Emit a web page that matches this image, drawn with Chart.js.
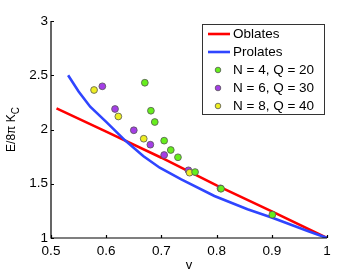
<!DOCTYPE html>
<html>
<head>
<meta charset="utf-8">
<script src="https://cdn.jsdelivr.net/npm/chart.js@4"></script>
<style>
    html, body { margin: 0; padding: 0; background: #fff; }
    #wrap { width: 362px; height: 273px; }
</style>
</head>
<body>
<div id="wrap"><canvas id="chart" width="362" height="273"></canvas></div>
<script>
/* ===== data ===== */
var xTicks = [0.5, 0.6, 0.7, 0.8, 0.9, 1];
var xTickLabels = ["0.5", "0.6", "0.7", "0.8", "0.9", "1"];
var yTicks = [1, 1.5, 2, 2.5, 3];
var yTickLabels = ["1", "1.5", "2", "2.5", "3"];

var oblatesX = [0.51, 0.6, 0.7, 0.8, 0.9, 1];
var oblatesY = [2.195, 1.98, 1.74, 1.485, 1.245, 1];

var prolatesX = [0.531, 0.55, 0.571, 0.6, 0.634, 0.667, 0.697, 0.736, 0.796, 0.856, 0.901, 0.965, 1];
var prolatesY = [2.5, 2.35, 2.21, 2.07, 1.9, 1.756, 1.648, 1.541, 1.387, 1.265, 1.187, 1.065, 1];

var n4X = [0.670, 0.681, 0.688, 0.705, 0.717, 0.730, 0.761, 0.808, 0.901];
var n4Y = [2.431, 2.173, 2.069, 1.897, 1.811, 1.744, 1.608, 1.454, 1.215];

var n6X = [0.593, 0.616, 0.650, 0.680, 0.705, 0.749, 0.807];
var n6Y = [2.398, 2.189, 1.993, 1.860, 1.765, 1.624, 1.458];

var n8X = [0.578, 0.622, 0.668, 0.751];
var n8Y = [2.364, 2.120, 1.915, 1.602];

var seriesNames = ["Oblates", "Prolates", "N = 4, Q = 20", "N = 6, Q = 30", "N = 8, Q = 40"];

/* ===== helpers ===== */
function toPoints(xs, ys) {
    var out = [];
    for (var i = 0; i < xs.length; i++) out.push({ x: xs[i], y: ys[i] });
    return out;
}

var RED = "#ff0000";
var BLUE = "#2f45ff";
var GREEN = "#66ee1c";
var PURPLE = "#a43ee6";
var YELLOW = "#eeee22";
var FONT = "'Liberation Sans', Arial, sans-serif";

function lineSet(label, xs, ys, color, order) {
    return {
        label: label,
        data: toPoints(xs, ys),
        showLine: true,
        borderColor: color,
        borderWidth: 2.6,
        pointRadius: 0,
        fill: false,
        tension: 0,
        order: order
    };
}

function dotSet(label, xs, ys, color, order) {
    return {
        label: label,
        data: toPoints(xs, ys),
        showLine: false,
        backgroundColor: color,
        borderColor: "#555555",
        borderWidth: 0.8,
        pointRadius: 3.4,
        order: order
    };
}

/* --- frame, inward ticks, y title and legend --- */
var decorPlugin = {
    id: "decor",
    afterDatasetsDraw: function (chart) {
        var ctx = chart.ctx;
        var area = chart.chartArea;
        var xs = chart.scales.x;
        var ys = chart.scales.y;
        var i;

        ctx.save();
        ctx.strokeStyle = "#000";
        ctx.lineWidth = 1.2;
        ctx.beginPath();
        ctx.moveTo(area.left, area.top);
        ctx.lineTo(area.left, area.bottom);
        ctx.lineTo(area.right, area.bottom);
        for (i = 0; i < xTicks.length; i++) {
            var px = Math.round(xs.getPixelForValue(xTicks[i])) + 0.5;
            ctx.moveTo(px, area.bottom);
            ctx.lineTo(px, area.bottom - 3);
        }
        for (i = 0; i < yTicks.length; i++) {
            var py = Math.round(ys.getPixelForValue(yTicks[i])) + 0.5;
            ctx.moveTo(area.left, py);
            ctx.lineTo(area.left + 3, py);
        }
        ctx.stroke();

        // y axis title with subscript
        ctx.fillStyle = "#000";
        ctx.translate(15, (area.top + area.bottom) / 2);
        ctx.rotate(-Math.PI / 2);
        ctx.font = "12px " + FONT;
        ctx.textBaseline = "alphabetic";
        var main = "E/8\u03c0 K";
        var wMain = ctx.measureText(main).width;
        ctx.font = "10px " + FONT;
        var wSub = ctx.measureText("C").width;
        var start = -(wMain + wSub) / 2;
        ctx.font = "12px " + FONT;
        ctx.textAlign = "left";
        ctx.fillText(main, start, 0);
        ctx.font = "10px " + FONT;
        ctx.fillText("C", start + wMain, 4);
        ctx.restore();

        // legend box
        ctx.save();
        var bx = 202, by = 24, bw = 122, bh = 90;
        ctx.fillStyle = "#fff";
        ctx.fillRect(bx, by, bw, bh);
        ctx.strokeStyle = "#333";
        ctx.lineWidth = 1;
        ctx.strokeRect(bx + 0.5, by + 0.5, bw, bh);
        var colors = [RED, BLUE, GREEN, PURPLE, YELLOW];
        ctx.font = "13.5px " + FONT;
        ctx.textBaseline = "middle";
        ctx.textAlign = "left";
        for (i = 0; i < seriesNames.length; i++) {
            var ry = by + 10 + i * 18;
            if (i < 2) {
                ctx.strokeStyle = colors[i];
                ctx.lineWidth = 2.6;
                ctx.beginPath();
                ctx.moveTo(bx + 6, ry);
                ctx.lineTo(bx + 28, ry);
                ctx.stroke();
            } else {
                ctx.fillStyle = colors[i];
                ctx.strokeStyle = "#555";
                ctx.lineWidth = 0.8;
                ctx.beginPath();
                ctx.arc(bx + 16, ry, 2.8, 0, Math.PI * 2);
                ctx.fill();
                ctx.stroke();
            }
            ctx.fillStyle = "#000";
            ctx.fillText(seriesNames[i], bx + 31, ry + 0.5);
        }
        ctx.restore();
    }
};

new Chart(document.getElementById("chart"), {
    type: "scatter",
    data: {
        datasets: [
            lineSet(seriesNames[0], oblatesX, oblatesY, RED, 5),
            lineSet(seriesNames[1], prolatesX, prolatesY, BLUE, 4),
            dotSet(seriesNames[2], n4X, n4Y, GREEN, 1),
            dotSet(seriesNames[3], n6X, n6Y, PURPLE, 3),
            dotSet(seriesNames[4], n8X, n8Y, YELLOW, 2)
        ]
    },
    options: {
        responsive: false,
        animation: false,
        layout: { padding: { top: 21, right: 35, bottom: 0, left: 0 } },
        scales: {
            x: {
                type: "linear",
                min: 0.5,
                max: 1,
                afterBuildTicks: function (scale) {
                    scale.ticks = xTicks.map(function (v) { return { value: v }; });
                },
                afterFit: function (scale) { scale.height = 35; },
                ticks: {
                    color: "#000",
                    font: { family: FONT, size: 13.5 },
                    padding: 5,
                    maxRotation: 0,
                    callback: function (val, idx) { return xTickLabels[idx]; }
                },
                grid: { display: false, drawTicks: false },
                border: { display: false },
                title: {
                    display: true,
                    text: "v",
                    color: "#000",
                    font: { family: FONT, size: 13 },
                    padding: { top: 0, bottom: 0 }
                }
            },
            y: {
                type: "linear",
                min: 1,
                max: 3,
                afterBuildTicks: function (scale) {
                    scale.ticks = yTicks.map(function (v) { return { value: v }; });
                },
                afterFit: function (scale) { scale.width = 51; },
                ticks: {
                    color: "#000",
                    font: { family: FONT, size: 13.5 },
                    padding: 3,
                    callback: function (val, idx) { return yTickLabels[idx]; }
                },
                grid: { display: false, drawTicks: false },
                border: { display: false }
            }
        },
        plugins: {
            legend: { display: false },
            tooltip: { enabled: false }
        }
    },
    plugins: [decorPlugin]
});
</script>
</body>
</html>
